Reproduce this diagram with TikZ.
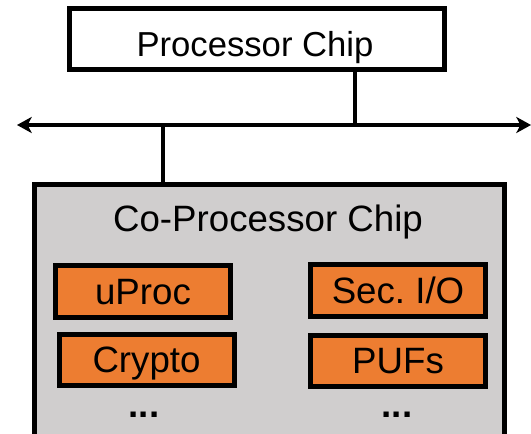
\documentclass[tikz,border=0pt]{standalone}
\usepackage{fontspec}
\setmainfont{Liberation Sans}
\usetikzlibrary{arrows.meta}
\definecolor{chipgray}{HTML}{D0CECE}
\definecolor{blockorange}{HTML}{ED7D31}
\begin{document}
\begin{tikzpicture}[x=0.75pt,y=-0.75pt,
  bigtext/.style={font=\fontsize{27.5pt}{32pt}\selectfont, inner sep=0pt},
  block/.style={draw, line width=3.75pt, fill=blockorange,
    minimum width=131.25pt, minimum height=38.25pt, inner sep=0pt,
    font=\fontsize{27.5pt}{32pt}\selectfont, text height=19.7pt, text depth=0pt},
  wire/.style={line width=3.4pt},
  bustip/.tip={Stealth[length=11pt,width=12pt,inset=3pt]},
]
\clip (0,0) rectangle (531,434);
\useasboundingbox (0,0) rectangle (531,434);

% processor chip
\node[draw, line width=3.4pt, fill=white, minimum width=281.6pt,
      minimum height=46.1pt, inner sep=0pt] (proc) at (257,39) {};
\node[bigtext, font=\fontsize{26pt}{30pt}\selectfont, anchor=base] (proctext) at (255,57) {Processor Chip};

% system bus
\coordinate (busL) at (17,125);
\coordinate (busR) at (531,125);
\coordinate (tapP) at (355,125);
\coordinate (tapC) at (163,125);
\draw[wire, bustip-bustip] (busL) -- (busR);

% co-processor chip
\node[draw, line width=3.75pt, fill=chipgray, minimum width=352.5pt,
      minimum height=214.1pt, inner sep=0pt] (coproc) at (269.5,327.25) {};
\node[bigtext, anchor=base] (coproctext) at (268,232) {Co-Processor Chip};

\draw[wire] (proc.south -| tapP) -- (tapP);
\draw[wire] (tapC) -- (tapC |- coproc.north);

% internal blocks
\node[block] (uproc)  at (143,291.5) {uProc};
\node[block] (crypto) at (146.5,359.5) {Crypto};
\node[block] (secio)  at (398,290.5) {Sec.\ I/O};
\node[block] (pufs)   at (398,360.5) {PUFs};

\node[bigtext, anchor=base, font=\fontsize{27.5pt}{32pt}\selectfont\bfseries] (dotsL) at (144,417) {...};
\node[bigtext, anchor=base, font=\fontsize{27.5pt}{32pt}\selectfont\bfseries] (dotsR) at (397,417) {...};
\end{tikzpicture}
\end{document}
